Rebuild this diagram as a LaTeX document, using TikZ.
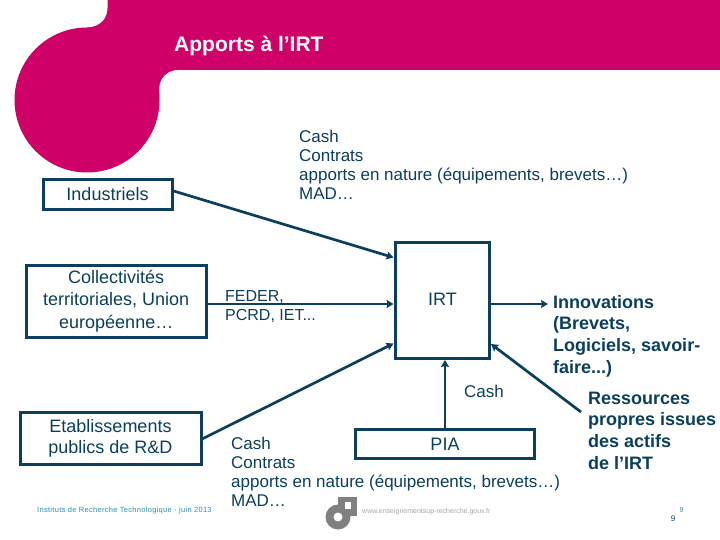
\documentclass[tikz,border=0pt]{standalone}
\usepackage{fontspec}
\setmainfont{Liberation Sans}
\usetikzlibrary{arrows.meta}
\definecolor{ink}{HTML}{0B3F5C}
\definecolor{rose}{HTML}{CF0068}
\definecolor{teal2}{HTML}{2E8FA3}
\definecolor{logogray}{HTML}{808080}
\tikzset{
 x=1pt,y=-1pt,
 box/.style={draw=ink,line width=3pt,fill=white,text=ink,align=center,font=\fontsize{18}{22}\selectfont,inner sep=0pt,outer sep=0pt,anchor=north west},
 txt/.style={text=ink,align=left,anchor=north west,inner sep=0pt,font=\fontsize{17}{19}\selectfont},
 boldtxt/.style={text=ink,align=left,anchor=north west,inner sep=0pt,font=\fontsize{18}{21.7}\selectfont\bfseries},
 arr/.style={draw=ink,line width=2.7pt,-{Stealth[length=7pt,width=8pt,inset=1pt]}}
}
\begin{document}
\begin{tikzpicture}
\useasboundingbox (0,0) rectangle (720,540);
\fill[white] (0,0) rectangle (720,540);
% banner
\fill[rose] (87,100) circle[radius=72.5];
\fill[rose] (107.5,0) -- (720,0) -- (720,70) -- (178,70)
  .. controls (167,70) and (159,78) .. (159,90) -- (159,100)
  -- (87,100) -- (87,27.5)
  .. controls (101,27) and (107.5,18) .. (107.5,8) -- cycle;
\node[anchor=west,inner sep=0pt,text=white,font=\fontsize{21}{24}\selectfont\bfseries] (title) at (174,45.5) {Apports à l’IRT};
% connector ends
\coordinate (irtA) at (393.5,257.5);
\coordinate (irtB) at (393.5,304);
\coordinate (irtC) at (393.5,343.5);
\coordinate (irtD) at (445,360);
\coordinate (irtE) at (491,344);
\coordinate (irtF) at (491,304);
\coordinate (piaTop) at (445,428);
\coordinate (resEnd) at (581,412);
\coordinate (innEnd) at (548,304);
% boxes
\node[box,minimum width=129pt,minimum height=30pt] (ind) at (43,180) {\raisebox{1.5pt}{Industriels}};
\node[box,minimum width=180.5pt,minimum height=72pt,font=\fontsize{18}{22.5}\selectfont] (col) at (26,265) {Collectivités\\territoriales, Union\\européenne…};
\node[box,minimum width=181pt,minimum height=52pt,font=\fontsize{18}{21}\selectfont] (eta) at (20,412) {Etablissements\\publics de R\&D};
\node[box,minimum width=94.5pt,minimum height=116.5pt] (irt) at (395,242) {};
\node[text=ink,inner sep=0pt,font=\fontsize{18}{21}\selectfont] (irtlabel) at (442.5,299) {IRT};
\node[box,minimum width=179pt,minimum height=29pt] (pia) at (355.5,429.5) {PIA};
% connectors
\draw[arr] (ind.4.4) -- (irtA);
\draw[arr] (col.east |- irtB) -- (irtB);
\draw[arr] (eta.-1) -- (irtC);
\draw[arr] (piaTop) -- (irtD);
\draw[arr] (resEnd) -- (irtE);
\draw[arr] (irtF) -- (innEnd);
% texts
\node[txt] (upper) at (299,129.5) {Cash\\Contrats\\apports en nature (équipements, brevets…)\\MAD…};
\node[txt,font=\fontsize{16}{19}\selectfont] (feder) at (225,290) {FEDER,\\PCRD, IET...};
\node[txt] (cashup) at (464,385) {Cash};
\node[txt] (lower) at (231,436.5) {Cash\\Contrats\\apports en nature (équipements, brevets…)\\MAD…};
\node[boldtxt] (innov) at (553,295) {Innovations\\(Brevets,\\Logiciels, savoir-\\faire...)};
\node[boldtxt] (ress) at (588,391.5) {Ressources\\propres issues\\des actifs\\de l’IRT};
% footer
\node[anchor=west,inner sep=0pt,text=teal2,font=\fontsize{7.5}{9}\selectfont] (foot) at (37,511) {\addfontfeature{LetterSpace=4}Instituts de Recherche Technologique - juin 2013};
\node[anchor=west,inner sep=0pt,text=logogray!70,font=\fontsize{7}{8}\selectfont] (url) at (362,512) {www.enseignementsup-recherche.gouv.fr};
\node[inner sep=0pt,text=ink,font=\fontsize{8}{9}\selectfont] (pg) at (673,519) {9};
\node[inner sep=0pt,text=teal2,font=\fontsize{7}{8}\selectfont] (pgs) at (681.5,510.5) {9};
% logo
\fill[logogray] (338,497) rectangle (357,516);
\fill[logogray] (338,517) circle[radius=12.5];
\fill[white] (344.5,502) rectangle (351,508.5);
\fill[white] (338,517) circle[radius=4.5];
\end{tikzpicture}
\end{document}
